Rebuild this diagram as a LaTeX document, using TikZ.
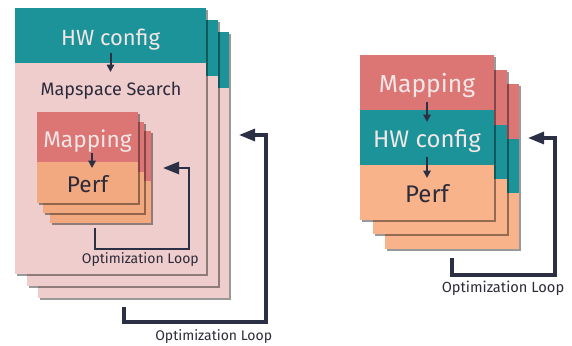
\documentclass[tikz,border=0pt]{standalone}
\usepackage{fontspec}
\setmainfont{Fira Sans}
\usetikzlibrary{arrows.meta,shadows}
\definecolor{tealband}{HTML}{1B9398}
\definecolor{redband}{HTML}{DC7675}
\definecolor{pinkbg}{HTML}{F0CDCD}
\definecolor{peachA}{HTML}{F8B38A}
\definecolor{peachB}{HTML}{F3A97F}
\definecolor{navy}{HTML}{2C3045}
\definecolor{lighttext}{HTML}{F3E6E6}
\definecolor{darktext}{HTML}{2B2B3B}
\tikzset{
  card/.style={drop shadow={shadow xshift=1.3pt,shadow yshift=-1.3pt,opacity=.4,fill=black}},
  band/.style={rectangle,draw=none,inner sep=0pt,outer sep=0pt,anchor=north west,
               text height=15.5pt,text depth=0pt},
  sarr/.style={draw=navy,line width=1.5pt,-{Triangle[length=5.5pt,width=5.5pt]}},
  looparr/.style={draw=navy,line width=2.3pt,-{Triangle[length=12pt,width=9pt]}},
  looplabel/.style={text=darktext,font=\fontsize{10.5}{12}\selectfont,inner sep=0pt},
}
\begin{document}
\begin{tikzpicture}[x=0.75pt,y=-0.75pt]
\useasboundingbox (0,0) rectangle (572,346);

% ---- hardware search: stacked cards, each running a mapspace search
\path[card,fill=pinkbg] (38,32) rectangle ++(191,266);
\fill[tealband] (38,32) rectangle ++(191,56);
\path[card,fill=pinkbg] (27,20) rectangle ++(191,266);
\fill[tealband] (27,20) rectangle ++(191,56);
\path[card,fill=pinkbg] (15,8) rectangle ++(191,266);
\node[band,fill=tealband,minimum width=143.25pt,minimum height=41.25pt,
      text=lighttext,font=\fontsize{16.5}{19}\selectfont] (hwL) at (15,8) {HW config};
\node[text=darktext,font=\fontsize{13.5}{16}\selectfont] (mss) at (111,91) {Mapspace Search};
\draw[sarr] ([yshift=7.5pt]hwL.south) -- ([yshift=-6.75pt]hwL.south);

% inner mapping stack
\path[card,fill=peachB] (50,131) rectangle ++(101,92);
\fill[redband] (50,131) rectangle ++(101,50);
\path[card,fill=peachB] (43,122) rectangle ++(101,91);
\fill[redband] (43,122) rectangle ++(101,50);
\path[card,fill=peachB] (37,112) rectangle ++(101,91);
\node[band,fill=redband,minimum width=75.75pt,minimum height=37.5pt,
      text=lighttext,font=\fontsize{17}{20}\selectfont] (mapL) at (37,112) {Mapping};
\node[band,fill=peachB,minimum width=75.75pt,minimum height=30.75pt,
      text=darktext,font=\fontsize{17}{20}\selectfont] (perfL) at (mapL.south west) {Perf};
\draw[sarr] ([xshift=3.4pt,yshift=6.75pt]mapL.south) -- ([xshift=3.4pt,yshift=-4.5pt]mapL.south);

% inner optimization loop
\coordinate (iloopS) at (95,228);
\coordinate (iloopE) at (163,168);
\draw[looparr,line width=2pt] (iloopS) |- (189,249) |- (iloopE);
\node[looplabel,anchor=east] (iloopT) at (199,260) {Optimization Loop};

% outer optimization loop
\coordinate (oloopS) at (124,307);
\coordinate (oloopE) at (239,135);
\draw[looparr] (oloopS) |- (266,322) |- (oloopE);
\node[looplabel,anchor=west] (oloopT) at (155,337) {Optimization Loop};

% ---- joint search: mapping, hardware and performance in one card
\path[card,fill=peachA] (385,84) rectangle ++(134,165);
\fill[redband] (385,84) rectangle ++(134,55);
\fill[tealband] (385,139) rectangle ++(134,54);
\path[card,fill=peachA] (373,70) rectangle ++(134,164);
\fill[redband] (373,70) rectangle ++(134,55);
\fill[tealband] (373,125) rectangle ++(134,54);
\path[card,fill=peachA] (360,55) rectangle ++(134,165);
\node[band,fill=redband,minimum width=100.5pt,minimum height=41.25pt,
      text=lighttext,font=\fontsize{18.5}{22}\selectfont] (mapR) at (360,55) {Mapping};
\node[band,fill=tealband,minimum width=100.5pt,minimum height=41.25pt,
      text=lighttext,font=\fontsize{18}{22}\selectfont] (hwR) at (mapR.south west) {HW config};
\node[band,fill=peachA,minimum width=100.5pt,minimum height=41.25pt,
      text=darktext,font=\fontsize{18}{22}\selectfont] (perfR) at (hwR.south west) {Perf};
\draw[sarr] ([yshift=6pt]mapR.south) -- ([yshift=-9pt]mapR.south);
\draw[sarr] ([yshift=6pt]hwR.south) -- ([yshift=-9.75pt]hwR.south);

% right optimization loop
\coordinate (rloopS) at (452,258);
\coordinate (rloopE) at (528,138);
\draw[looparr] (rloopS) |- (555,275) |- (rloopE);
\node[looplabel,font=\fontsize{11}{13}\selectfont] (rloopT) at (503,288) {Optimization Loop};
\end{tikzpicture}
\end{document}
